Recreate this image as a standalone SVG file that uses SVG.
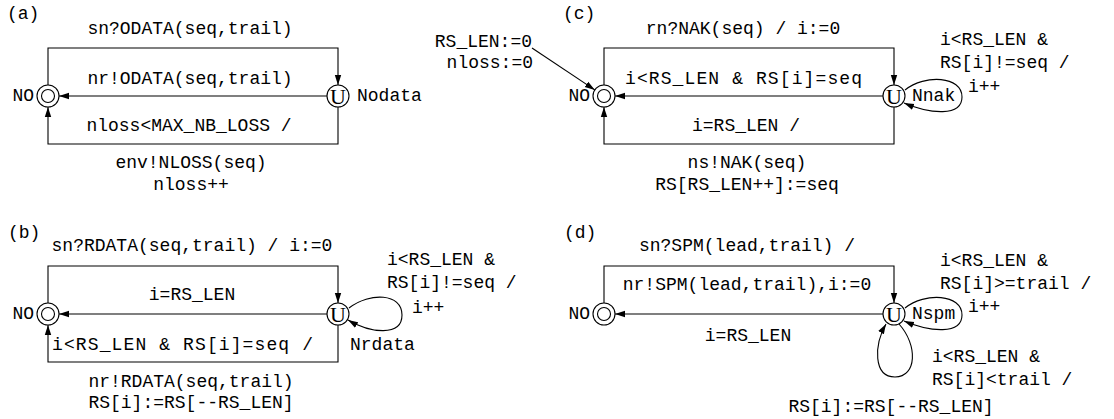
<svg xmlns="http://www.w3.org/2000/svg" width="1114" height="419" viewBox="0 0 1114 419">
<style>
text{font-family:"Liberation Mono","DejaVu Sans Mono",monospace;font-size:18px;fill:#000}
.m{text-anchor:middle}
.e{text-anchor:end}
.u{font-family:"Liberation Serif","DejaVu Serif",serif;font-size:22px;text-anchor:middle}
.st{fill:#fff;stroke:#000;stroke-width:1.1}
.c{fill:none;stroke:#000;stroke-width:1.1}
</style>
<defs>
<marker id="ah" markerWidth="10" markerHeight="8" refX="10" refY="4" orient="auto" markerUnits="userSpaceOnUse">
<path d="M0,0.8 L10,4 L0,7.2 z" fill="#000"/>
</marker>
</defs>
<rect width="1114" height="419" fill="#fff"/>

<g id="connectors">
<!-- (a) -->
<path class="c" d="M48,85 V48 H338 V85" marker-end="url(#ah)"/>
<path class="c" d="M327,96 H59" marker-end="url(#ah)"/>
<path class="c" d="M338,107 V144 H48 V107" marker-end="url(#ah)"/>
<!-- (c) -->
<path class="c" d="M532,48 L594.8,89.9" marker-end="url(#ah)"/>
<path class="c" d="M604,85 V48 H894 V85" marker-end="url(#ah)"/>
<path class="c" d="M883,96 H615" marker-end="url(#ah)"/>
<path class="c" d="M894,107 V144 H604 V107" marker-end="url(#ah)"/>
<path class="c" d="M905,90 C925,74 962,76 962,97 C962,117 930,114 904,103" marker-end="url(#ah)"/>
<!-- (b) -->
<path class="c" d="M48,303 V266 H338 V303" marker-end="url(#ah)"/>
<path class="c" d="M327,314 H59" marker-end="url(#ah)"/>
<path class="c" d="M338,325 V362 H48 V325" marker-end="url(#ah)"/>
<path class="c" d="M349,308 C370,292 402,293 402,315 C402,337 370,333 348,320" marker-end="url(#ah)"/>
<!-- (d) -->
<path class="c" d="M604,303 V266 H894 V303" marker-end="url(#ah)"/>
<path class="c" d="M883,314 H615" marker-end="url(#ah)"/>
<path class="c" d="M905,308 C925,292 962,294 962,315 C962,335 930,332 904,321" marker-end="url(#ah)"/>
<path class="c" d="M899,324 C918,345 917,377 895,377 C873,377 874,345 886,324" marker-end="url(#ah)"/>
</g>

<g id="labels">
<text x="7" y="19">(a)</text>
<text class="m" x="190" y="34">sn?ODATA(seq,trail)</text>
<text class="m" x="190" y="84">nr!ODATA(seq,trail)</text>
<text class="m" x="189" y="131">nloss&lt;MAX_NB_LOSS /</text>
<text class="m" x="191" y="168">env!NLOSS(seq)</text>
<text class="m" x="191" y="190">nloss++</text>

<text x="563" y="19">(c)</text>
<text class="e" x="532" y="47">RS_LEN:=0</text>
<text class="e" x="533" y="68">nloss:=0</text>
<text class="m" x="743" y="34">rn?NAK(seq) / i:=0</text>
<text x="625" y="84" textLength="237" lengthAdjust="spacing">i&lt;RS_LEN &amp; RS[i]=seq</text>
<text class="m" x="746" y="131">i=RS_LEN /</text>
<text class="m" x="747" y="168">ns!NAK(seq)</text>
<text class="m" x="747" y="190">RS[RS_LEN++]:=seq</text>
<text x="940" y="45">i&lt;RS_LEN &amp;</text>
<text x="940" y="68">RS[i]!=seq /</text>
<text x="968" y="92">i++</text>

<text x="8" y="238">(b)</text>
<text class="m" x="192" y="251">sn?RDATA(seq,trail) / i:=0</text>
<text class="m" x="192" y="300">i=RS_LEN</text>
<text x="52" y="350" textLength="261" lengthAdjust="spacing">i&lt;RS_LEN &amp; RS[i]=seq /</text>
<text class="m" x="191" y="387">nr!RDATA(seq,trail)</text>
<text class="m" x="191" y="408">RS[i]:=RS[--RS_LEN]</text>
<text x="387" y="265">i&lt;RS_LEN &amp;</text>
<text x="387" y="288">RS[i]!=seq /</text>
<text x="412" y="313">i++</text>

<text x="564" y="238">(d)</text>
<text class="m" x="747" y="251">sn?SPM(lead,trail) /</text>
<text class="m" x="747" y="290">nr!SPM(lead,trail),i:=0</text>
<text class="m" x="748" y="341">i=RS_LEN</text>
<text x="940" y="266">i&lt;RS_LEN &amp;</text>
<text x="940" y="289">RS[i]&gt;=trail /</text>
<text x="968" y="312">i++</text>
<text x="932" y="362">i&lt;RS_LEN &amp;</text>
<text x="932" y="385">RS[i]&lt;trail /</text>
<text class="m" x="891" y="412">RS[i]:=RS[--RS_LEN]</text>
</g>

<g id="a-NO">
<circle class="st" cx="48" cy="96" r="11"/>
<circle class="st" cx="48" cy="96" r="6.5"/>
<text class="e" x="34" y="101">NO</text>
</g>
<g id="a-Nodata">
<circle class="st" cx="338" cy="96" r="11"/>
<text class="u" x="338" y="103.5">U</text>
<text x="357" y="101">Nodata</text>
</g>

<g id="c-NO">
<circle class="st" cx="604" cy="96" r="11"/>
<circle class="st" cx="604" cy="96" r="6.5"/>
<text class="e" x="590" y="101">NO</text>
</g>
<g id="c-Nnak">
<circle class="st" cx="894" cy="96" r="11"/>
<text class="u" x="894" y="103.5">U</text>
<text x="912" y="101">Nnak</text>
</g>

<g id="b-NO">
<circle class="st" cx="48" cy="314" r="11"/>
<circle class="st" cx="48" cy="314" r="6.5"/>
<text class="e" x="34" y="319">NO</text>
</g>
<g id="b-Nrdata">
<circle class="st" cx="338" cy="314" r="11"/>
<text class="u" x="338" y="321.5">U</text>
<text x="350" y="350">Nrdata</text>
</g>

<g id="d-NO">
<circle class="st" cx="604" cy="314" r="11"/>
<circle class="st" cx="604" cy="314" r="6.5"/>
<text class="e" x="590" y="319">NO</text>
</g>
<g id="d-Nspm">
<circle class="st" cx="894" cy="314" r="11"/>
<text class="u" x="894" y="321.5">U</text>
<text x="912" y="319">Nspm</text>
</g>
</svg>
